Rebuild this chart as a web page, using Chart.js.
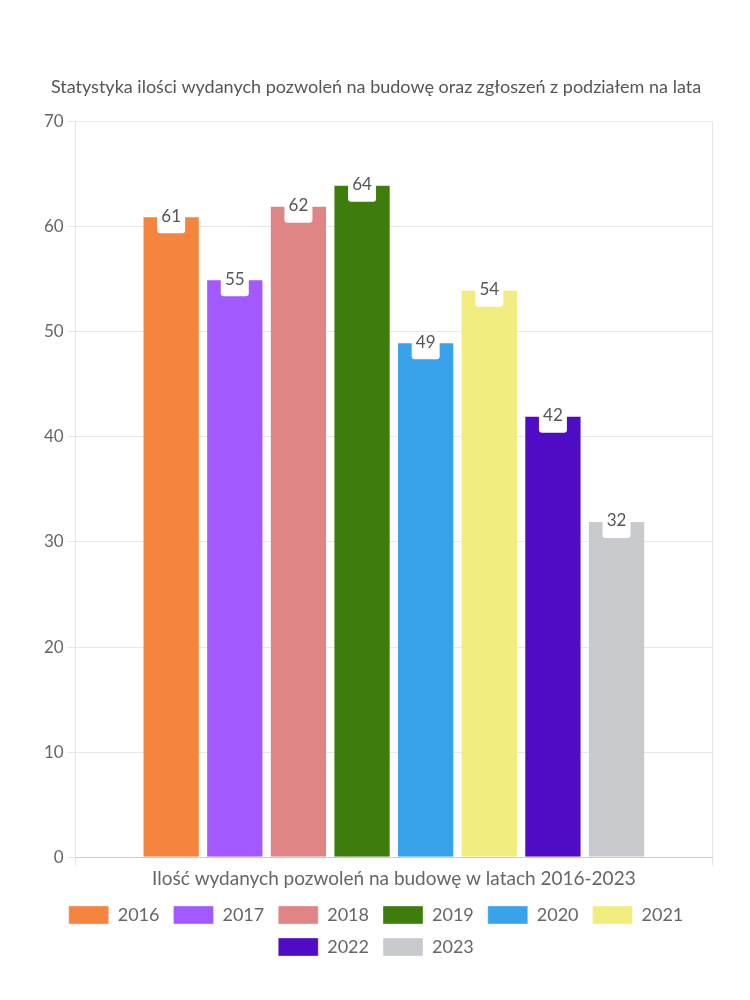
<!DOCTYPE html>
<html>
<head>
<meta charset="utf-8">
<script src="https://cdn.jsdelivr.net/npm/chart.js@4"></script>
<style>
  body { margin: 0; background: #fff; }
  #wrap { width: 750px; height: 1000px; }
</style>
</head>
<body>
<div id="wrap"><canvas id="barChart"></canvas></div>
<script>
const categories = ['Ilość wydanych pozwoleń na budowę w latach 2016-2023'];
const years = ['2016', '2017', '2018', '2019', '2020', '2021', '2022', '2023'];
const permits = [61, 55, 62, 64, 49, 54, 42, 32];
const colors = ['#F5843F', '#A259FF', '#E08585', '#3E7D0C', '#38A3EA', '#F0EC7E', '#500BC4', '#C9CACE'];

Chart.defaults.font.family = 'Lato, "Noto Sans", sans-serif';
Chart.defaults.color = '#666';

// white tab with the value on top of each bar
const valueTabs = {
    id: 'valueTabs',
    afterDatasetsDraw(chart) {
        const ctx = chart.ctx;
        ctx.save();
        chart.data.datasets.forEach((ds, i) => {
            const meta = chart.getDatasetMeta(i);
            meta.data.forEach((bar, j) => {
                const x = bar.x, y = bar.y;
                const w = 28, h = 17;
                ctx.fillStyle = '#fff';
                ctx.beginPath();
                ctx.roundRect(x - w / 2, y - 10, w, h + 10, 3);
                ctx.fill();
                ctx.fillStyle = '#555';
                ctx.font = '17px Lato, "Noto Sans", sans-serif';
                ctx.textAlign = 'center';
                ctx.textBaseline = 'middle';
                ctx.fillText(ds.data[j], x, y);
            });
        });
        ctx.restore();
    }
};

let dsets = [];
for (let i = 0; i < years.length; i++) {
    dsets.push({
        label: years[i],
        data: [permits[i]],
        backgroundColor: colors[i],
        borderColor: 'rgba(255,255,255,0.35)',
        borderWidth: 1
    });
}

new Chart(document.querySelector('#barChart'), {
    type: 'bar',
    data: { labels: categories, datasets: dsets },
    options: {
        responsive: true,
        maintainAspectRatio: false,
        animation: false,
        layout: { padding: { left: 40, right: 38, top: 76, bottom: 34 } },
        datasets: { bar: { categoryPercentage: 0.8, barPercentage: 0.9 } },
        scales: {
            x: {
                grid: { color: '#e4e4e4', tickLength: 8 },
                border: { color: '#ccc' },
                ticks: { font: { size: 19 }, color: '#666', padding: 2 }
            },
            y: {
                min: 0, max: 70,
                ticks: { stepSize: 10, font: { size: 17 }, color: '#666', padding: 4 },
                grid: { color: '#e8e8e8', tickLength: 8 },
                border: { color: '#e4e4e4' }
            }
        },
        plugins: {
            title: {
                display: true,
                text: 'Statystyka ilości wydanych pozwoleń na budowę oraz zgłoszeń z podziałem na lata',
                font: { size: 18, weight: 'normal' },
                color: '#555',
                padding: { top: 0, bottom: 24 }
            },
            legend: {
                position: 'bottom',
                labels: { boxWidth: 40, boxHeight: 18, font: { size: 18 }, color: '#666', padding: 14 }
            },
            tooltip: { enabled: false }
        }
    },
    plugins: [valueTabs]
});
</script>
</body>
</html>
